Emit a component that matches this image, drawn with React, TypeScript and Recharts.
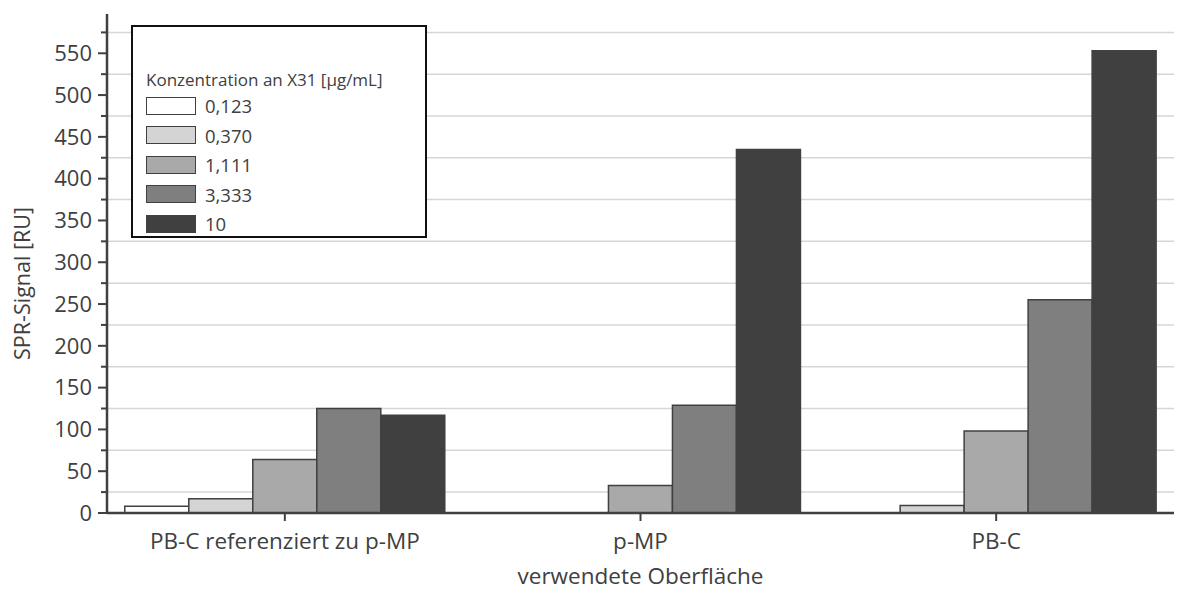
import React from 'react';
import { BarChart, Bar, XAxis, YAxis, CartesianGrid, Legend } from 'recharts';

// Oberflächen (Kategorien)
const surfaces = ['PB-C referenziert zu p-MP', 'p-MP', 'PB-C'];

// SPR-Signal [RU] je Konzentration an X31 [µg/mL]
const conc0123 = [8, 0, 0];
const conc0370 = [17, 0, 9];
const conc1111 = [64, 33, 98];
const conc3333 = [125, 129, 255];
const conc10 = [117, 435, 553];

const seriesNames = ['0,123', '0,370', '1,111', '3,333', '10'];
const seriesFills = ['#ffffff', '#d4d4d4', '#a9a9a9', '#7f7f7f', '#404040'];

const yTicks = [0, 25, 50, 75, 100, 125, 150, 175, 200, 225, 250, 275, 300, 325, 350, 375, 400, 425, 450, 475, 500, 525, 550, 575];
const gridValues = [25, 75, 125, 175, 225, 275, 325, 375, 425, 475, 525, 575];

const data = surfaces.map((name, i) => ({
  name,
  c0123: conc0123[i],
  c0370: conc0370[i],
  c1111: conc1111[i],
  c3333: conc3333[i],
  c10: conc10[i],
}));

const seriesKeys = ['c0123', 'c0370', 'c1111', 'c3333', 'c10'];

const INK = '#404040';
const FONT = '"Open Sans", sans-serif';

const LeftTick = ({ x, y, payload }: any) => {
  const major = payload.value % 50 === 0;
  return (
    <g>
      <line x1={x} x2={x - (major ? 9 : 6)} y1={y} y2={y} stroke={INK} strokeWidth={2} />
      {major && (
        <text x={x - 15} y={y} dy="0.35em" textAnchor="end" fill={INK} fontSize={22} fontFamily={FONT}>
          {payload.value}
        </text>
      )}
    </g>
  );
};

const RightTick = ({ x, y }: any) => (
  <line x1={x} x2={x + 4} y1={y} y2={y} stroke={INK} strokeWidth={2} />
);

const BottomTick = ({ x, y, payload }: any) => (
  <g>
    <line x1={x} x2={x} y1={y} y2={y + 8} stroke={INK} strokeWidth={2} />
    <text x={x} y={y + 36} textAnchor="middle" fill={INK} fontSize={22.5} fontFamily={FONT}>
      {payload.value}
    </text>
  </g>
);

const TopTick = ({ x, y }: any) => (
  <line x1={x} x2={x} y1={y} y2={y - 10} stroke={INK} strokeWidth={2} />
);

const YLabel = ({ viewBox }: any) => {
  const cx = 22;
  const cy = viewBox.y + viewBox.height / 2 + 20;
  return (
    <text x={cx} y={cy} transform={`rotate(-90 ${cx} ${cy})`} dy="0.35em" textAnchor="middle" fill={INK} fontSize={21.5} fontFamily={FONT}>
      SPR-Signal [RU]
    </text>
  );
};

const XLabel = ({ viewBox }: any) => (
  <text x={viewBox.x + viewBox.width / 2} y={viewBox.y + 71} textAnchor="middle" fill={INK} fontSize={22.5} fontFamily={FONT}>
    verwendete Oberfläche
  </text>
);

const LegendBox = ({ payload }: any) => {
  const items = [...(payload || [])].sort(
    (a: any, b: any) => seriesNames.indexOf(a.value) - seriesNames.indexOf(b.value)
  );
  return (
    <div
      style={{
        width: 296,
        height: 213,
        border: '2px solid #111',
        background: '#fff',
        boxSizing: 'border-box',
        fontFamily: FONT,
        color: INK,
        paddingLeft: 13,
        paddingTop: 42,
      }}
    >
      <div style={{ fontSize: 17, lineHeight: '22px', marginBottom: 0 }}>Konzentration an X31 [µg/mL]</div>
      {items.map((entry: any) => (
        <div key={entry.value} style={{ display: 'flex', alignItems: 'center', height: 29.5 }}>
          <div
            style={{
              width: 50,
              height: 18,
              background: entry.color,
              border: `1.5px solid ${INK}`,
              boxSizing: 'border-box',
              marginRight: 9,
            }}
          />
          <span style={{ fontSize: 18.5 }}>{entry.value}</span>
        </div>
      ))}
    </div>
  );
};

export default function App() {
  return (
    <div style={{ position: 'absolute', left: 0, top: 0, background: '#fff' }}>
      <BarChart
        width={1178}
        height={592}
        data={data}
        margin={{ top: 14, right: 4, left: 0, bottom: 0 }}
        barCategoryGap="5%"
        barGap={0}
      >
        <CartesianGrid vertical={false} horizontalValues={gridValues} stroke="#d6d6d6" strokeWidth={1.5} />
        <XAxis
          dataKey="name"
          height={79}
          axisLine={{ stroke: INK, strokeWidth: 2.5 }}
          tickLine={false}
          tickSize={0}
          tickMargin={0}
          tick={<BottomTick />}
          interval={0}
          label={<XLabel />}
        />
        <XAxis
          xAxisId="top"
          dataKey="name"
          orientation="top"
          height={0}
          axisLine={{ stroke: INK, strokeWidth: 2.5 }}
          tickLine={false}
          tickSize={0}
          tickMargin={0}
          tick={<TopTick />}
          interval={0}
        />
        <YAxis
          width={107}
          domain={[0, 597]}
          ticks={yTicks}
          interval={0}
          axisLine={{ stroke: INK, strokeWidth: 2.5 }}
          tickLine={false}
          tickSize={0}
          tickMargin={0}
          tick={<LeftTick />}
          label={<YLabel />}
        />
        <YAxis
          yAxisId="right"
          orientation="right"
          width={0}
          domain={[0, 597]}
          ticks={yTicks}
          interval={0}
          axisLine={{ stroke: INK, strokeWidth: 2.5 }}
          tickLine={false}
          tickSize={0}
          tickMargin={0}
          tick={<RightTick />}
        />
        <Legend
          layout="vertical"
          align="center"
          verticalAlign="middle"
          content={<LegendBox />}
          wrapperStyle={{ position: 'absolute', left: 131, top: 25, width: 296 }}
        />
        {seriesKeys.map((key, i) => (
          <Bar
            key={key}
            dataKey={key}
            name={seriesNames[i]}
            fill={seriesFills[i]}
            stroke={INK}
            strokeWidth={1.5}
            isAnimationActive={false}
          />
        ))}
      </BarChart>
    </div>
  );
}
